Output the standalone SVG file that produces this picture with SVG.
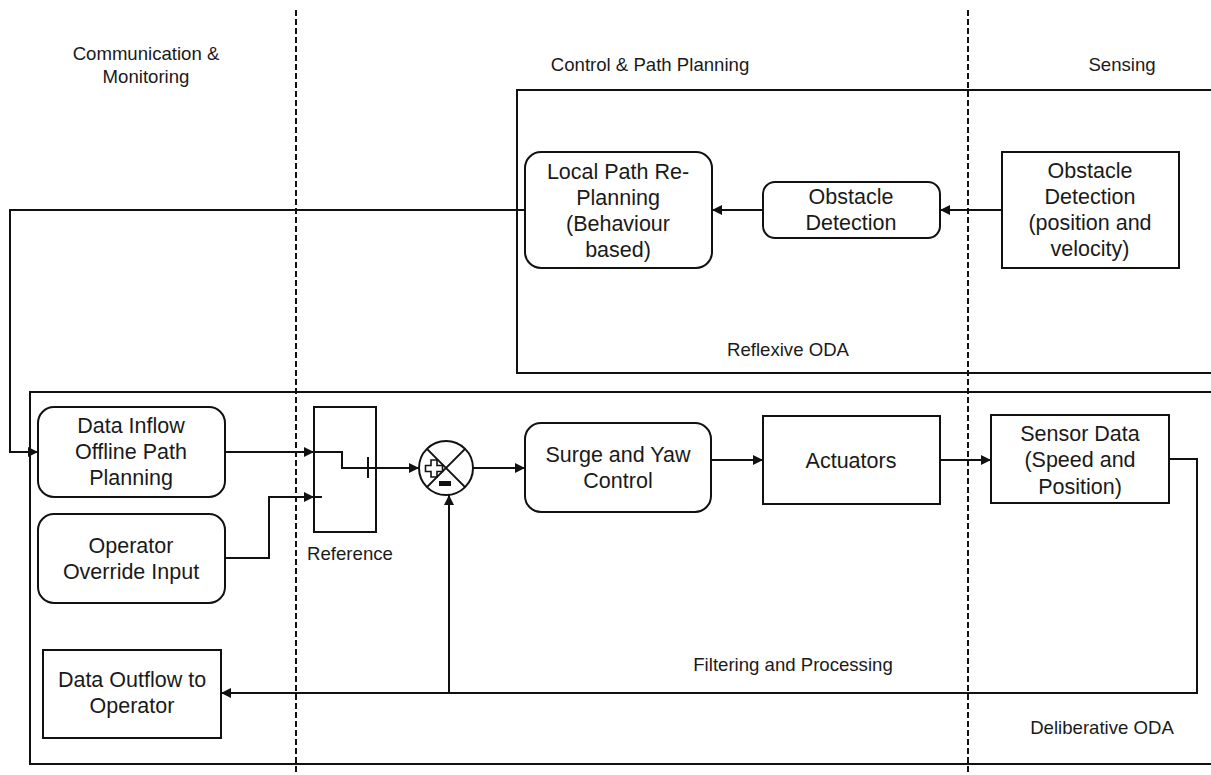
<svg xmlns="http://www.w3.org/2000/svg" width="1211" height="775" viewBox="0 0 1211 775">
<style>
text{font-family:"Liberation Sans",Arial,sans-serif;fill:#1a1a1a;text-anchor:middle}
.lbl{font-size:18.6px}
.box{font-size:21.5px}
.shape{fill:#fff;stroke:#111;stroke-width:2}
.frame{fill:none;stroke:#111;stroke-width:2}
.dash{fill:none;stroke:#111;stroke-width:2;stroke-dasharray:6,3}
.wire{fill:none;stroke:#111;stroke-width:2}
</style>
<defs>
<marker id="arr" markerUnits="userSpaceOnUse" markerWidth="11" markerHeight="10" refX="10" refY="5" orient="auto">
<path d="M0,0 L10,5 L0,10 Z" fill="#111"/>
</marker>
</defs>
<rect width="1211" height="775" fill="#fff"/>

<g id="lanes">
<line class="dash" x1="296" y1="10" x2="296" y2="775"/>
<line class="dash" x1="968" y1="10" x2="968" y2="775"/>
<text class="lbl" x="146" y="60">Communication &amp;</text>
<text class="lbl" x="146" y="83">Monitoring</text>
<text class="lbl" x="650" y="71">Control &amp; Path Planning</text>
<text class="lbl" x="1122" y="71">Sensing</text>
</g>

<g id="reflexive">
<path class="frame" d="M1215,90 H517 V373 H1215"/>
<text class="lbl" x="788" y="356">Reflexive ODA</text>
</g>

<g id="deliberative">
<path class="frame" d="M1215,392 H30 V764 H1215"/>
<text class="lbl" x="793" y="671">Filtering and Processing</text>
<text class="lbl" x="1102" y="734">Deliberative ODA</text>
</g>

<g id="connectors">
<path class="wire" d="M525,210 H10 V452 H38" marker-end="url(#arr)"/>
<line class="wire" x1="763" y1="210" x2="712" y2="210" marker-end="url(#arr)"/>
<line class="wire" x1="1002" y1="210" x2="940" y2="210" marker-end="url(#arr)"/>
<line class="wire" x1="225" y1="452" x2="314" y2="452" marker-end="url(#arr)"/>
<path class="wire" d="M314,452 H342 V468 H419" marker-end="url(#arr)"/>
<path class="wire" d="M225,558 H269 V497 H314" marker-end="url(#arr)"/>
<line class="wire" x1="314" y1="497" x2="322" y2="497"/>
<line class="wire" x1="368" y1="457" x2="368" y2="478"/>
<line class="wire" x1="473" y1="468" x2="525" y2="468" marker-end="url(#arr)"/>
<line class="wire" x1="711" y1="460" x2="763" y2="460" marker-end="url(#arr)"/>
<line class="wire" x1="940" y1="460" x2="991" y2="460" marker-end="url(#arr)"/>
<path class="wire" d="M1169,459 H1197 V693 H221" marker-end="url(#arr)"/>
<line class="wire" x1="449" y1="693" x2="449" y2="495" marker-end="url(#arr)"/>
</g>

<g id="local-path">
<rect class="shape" x="525" y="152" width="187" height="116" rx="16"/>
<text class="box" x="618" y="179">Local Path Re-</text>
<text class="box" x="618" y="205">Planning</text>
<text class="box" x="618" y="231">(Behaviour</text>
<text class="box" x="618" y="257">based)</text>
</g>

<g id="obstacle-detection">
<rect class="shape" x="763" y="182" width="177" height="56" rx="12"/>
<text class="box" x="851" y="204">Obstacle</text>
<text class="box" x="851" y="230">Detection</text>
</g>

<g id="obstacle-sensing">
<rect class="shape" x="1002" y="152" width="177" height="116"/>
<text class="box" x="1090" y="178">Obstacle</text>
<text class="box" x="1090" y="204">Detection</text>
<text class="box" x="1090" y="230">(position and</text>
<text class="box" x="1090" y="256">velocity)</text>
</g>

<g id="data-inflow">
<rect class="shape" x="38" y="407" width="187" height="90" rx="16"/>
<text class="box" x="131" y="433">Data Inflow</text>
<text class="box" x="131" y="459">Offline Path</text>
<text class="box" x="131" y="485">Planning</text>
</g>

<g id="operator-override">
<rect class="shape" x="38" y="514" width="187" height="89" rx="16"/>
<text class="box" x="131" y="553">Operator</text>
<text class="box" x="131" y="579">Override Input</text>
</g>

<g id="reference">
<rect x="314" y="407" width="62" height="125" fill="none" stroke="#111" stroke-width="2"/>
<text class="lbl" x="350" y="560">Reference</text>
</g>

<g id="summing-junction">
<circle cx="446" cy="468" r="27" fill="#fff" stroke="#111" stroke-width="2"/>
<line class="wire" x1="426.9" y1="448.9" x2="465.1" y2="487.1"/>
<line class="wire" x1="465.1" y1="448.9" x2="426.9" y2="487.1"/>
<path d="M431,460 h6 v5.5 h5.5 v6 h-5.5 v5.5 h-6 v-5.5 h-5.5 v-6 h5.5 Z" fill="#fff" stroke="#111" stroke-width="1.6"/>
<rect x="439" y="481" width="12" height="5" fill="#111"/>
</g>

<g id="surge-yaw">
<rect class="shape" x="525" y="423" width="186" height="89" rx="16"/>
<text class="box" x="618" y="462">Surge and Yaw</text>
<text class="box" x="618" y="488">Control</text>
</g>

<g id="actuators">
<rect class="shape" x="763" y="416" width="177" height="88"/>
<text class="box" x="851" y="468">Actuators</text>
</g>

<g id="sensor-data">
<rect class="shape" x="991" y="415" width="178" height="88"/>
<text class="box" x="1080" y="441">Sensor Data</text>
<text class="box" x="1080" y="467">(Speed and</text>
<text class="box" x="1080" y="494">Position)</text>
</g>

<g id="data-outflow">
<rect class="shape" x="43" y="650" width="178" height="88"/>
<text class="box" x="132" y="687">Data Outflow to</text>
<text class="box" x="132" y="713">Operator</text>
</g>
</svg>
